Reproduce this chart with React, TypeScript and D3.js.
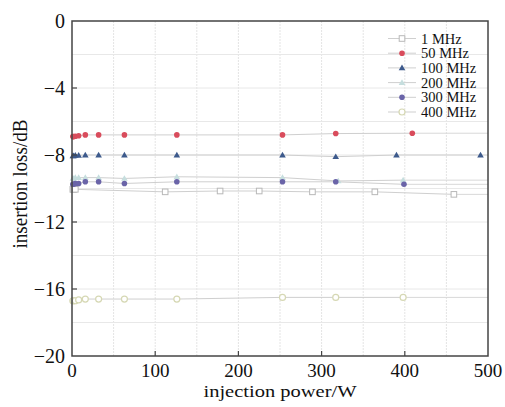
import React from "react";
import * as d3 from "d3";

const seriesNames = ["1 MHz", "50 MHz", "100 MHz", "200 MHz", "300 MHz", "400 MHz"];
const x1 = [1, 2, 4, 112, 178, 225, 289, 364, 459];
const y1 = [-10.05, -10.05, -10.05, -10.2, -10.15, -10.15, -10.2, -10.2, -10.35];
const x50 = [1, 2, 4, 8, 16, 32, 63, 126, 253, 317, 409];
const y50 = [-6.9, -6.9, -6.88, -6.85, -6.8, -6.8, -6.8, -6.8, -6.8, -6.72, -6.7];
const x100 = [1, 2, 4, 8, 16, 32, 63, 126, 253, 317, 390, 491];
const y100 = [-8.05, -8.05, -8.02, -8.02, -8.0, -8.0, -8.0, -8.0, -8.0, -8.1, -8.0, -8.0];
const x200 = [1, 2, 4, 8, 16, 32, 63, 126, 253, 320, 398];
const y200 = [-9.4, -9.4, -9.35, -9.35, -9.35, -9.35, -9.4, -9.3, -9.35, -9.55, -9.5];
const x300 = [1, 2, 4, 8, 16, 32, 63, 126, 253, 317, 399];
const y300 = [-9.75, -9.75, -9.7, -9.7, -9.6, -9.6, -9.7, -9.6, -9.6, -9.6, -9.75];
const x400 = [1, 2, 4, 8, 16, 32, 63, 126, 253, 317, 398];
const y400 = [-16.7, -16.7, -16.7, -16.65, -16.6, -16.6, -16.6, -16.6, -16.5, -16.5, -16.5];

const xTicks = [0, 100, 200, 300, 400, 500];
const yTicks = [0, -4, -8, -12, -16, -20];

const seriesX = [x1, x50, x100, x200, x300, x400];
const seriesY = [y1, y50, y100, y200, y300, y400];
const colors = ["#b8b8b8", "#d94c5c", "#3d5a8c", "#c6dede", "#6a64a8", "#d6d8b4"];
const markers = ["square", "circle", "triangle", "triangle", "circle", "hex"];

const W = 505, H = 407;
const m = { l: 72, r: 488, t: 21, b: 356 };

function Marker({ type, x, y, color }: { type: string; x: number; y: number; color: string }) {
  if (type === "square")
    return <rect x={x - 2.8} y={y - 2.8} width={5.6} height={5.6} fill="white" stroke={color} strokeWidth={1} />;
  if (type === "circle") return <circle cx={x} cy={y} r={2.8} fill={color} />;
  if (type === "triangle")
    return <path d={`M${x},${y - 3.3}L${x + 3.3},${y + 2.4}L${x - 3.3},${y + 2.4}Z`} fill={color} />;
  return <circle cx={x} cy={y} r={3} fill="white" stroke={color} strokeWidth={1.2} />;
}

export default function App() {
  const xs = d3.scaleLinear().domain([0, 500]).range([m.l, m.r]);
  const ys = d3.scaleLinear().domain([-20, 0]).range([m.b, m.t]);
  const line = d3.line<[number, number]>().x((d) => xs(d[0])).y((d) => ys(d[1]));
  const gridX = d3.range(50, 500, 50);
  const gridY = d3.range(-18, 0, 2);
  const font = "'Liberation Serif', 'Times New Roman', serif";
  return (
    <svg width={W} height={H} style={{ position: "absolute", left: 0, top: 0 }} fontFamily={font}>
      <rect width={W} height={H} fill="white" />
      {gridX.map((v) => (
        <line key={"gx" + v} x1={xs(v)} x2={xs(v)} y1={m.t} y2={m.b} stroke="#e4e4e4" strokeWidth={1} strokeDasharray="2,1" />
      ))}
      {gridY.map((v) => (
        <line key={"gy" + v} x1={m.l} x2={m.r} y1={ys(v)} y2={ys(v)} stroke="#e8e8e8" strokeWidth={1} />
      ))}
      {seriesX.map((xsArr, i) => {
        const pts: [number, number][] = xsArr.map((x, j) => [x, seriesY[i][j]]);
        const ext: [number, number][] = [pts[pts.length - 1], [500, seriesY[i][seriesY[i].length - 1]]];
        return (
          <g key={"s" + i}>
            <path d={line(pts) || ""} fill="none" stroke="#cfcfcf" strokeWidth={1} />
            <path d={line(ext) || ""} fill="none" stroke="#d8d8d8" strokeWidth={1} />
          </g>
        );
      })}
      {seriesX.map((xsArr, i) =>
        xsArr.map((x, j) => (
          <Marker key={`m${i}-${j}`} type={markers[i]} x={xs(x)} y={ys(seriesY[i][j])} color={colors[i]} />
        ))
      )}
      <rect x={m.l} y={m.t} width={m.r - m.l} height={m.b - m.t} fill="none" stroke="#444" strokeWidth={1.5} />
      {xTicks.slice(1, -1).map((v) => (
        <line key={"xt" + v} x1={xs(v)} x2={xs(v)} y1={m.b} y2={m.b - 5} stroke="#444" strokeWidth={1.2} />
      ))}
      {yTicks.slice(1, -1).map((v) => (
        <line key={"yt" + v} x1={m.l} x2={m.l + 5} y1={ys(v)} y2={ys(v)} stroke="#444" strokeWidth={1.2} />
      ))}
      {xTicks.map((v) => (
        <text key={"xl" + v} x={xs(v)} y={377} fontSize={19} textAnchor="middle" fill="#111">
          {v}
        </text>
      ))}
      {yTicks.map((v) => (
        <text key={"yl" + v} x={65} y={ys(v) + 7} fontSize={20} textAnchor="end" fill="#111">
          {v < 0 ? "\u2212" + Math.abs(v) : v}
        </text>
      ))}
      <text x={280} y={397} fontSize={17} textAnchor="middle" fill="#111" textLength={153} lengthAdjust="spacingAndGlyphs">
        injection power/W
      </text>
      <text transform={`translate(27,${184}) rotate(-90)`} fontSize={20} textAnchor="middle" fill="#111" textLength={129} lengthAdjust="spacingAndGlyphs">
        insertion loss/dB
      </text>
      {seriesNames.map((name, i) => {
        const y = 38.5 + i * 14.7;
        return (
          <g key={"lg" + i}>
            <line x1={388} x2={416} y1={y} y2={y} stroke="#cfcfcf" strokeWidth={1} />
            <Marker type={markers[i]} x={402} y={y} color={colors[i]} />
            <text x={421} y={y + 5} fontSize={14.5} fill="#111">
              {name}
            </text>
          </g>
        );
      })}
    </svg>
  );
}
